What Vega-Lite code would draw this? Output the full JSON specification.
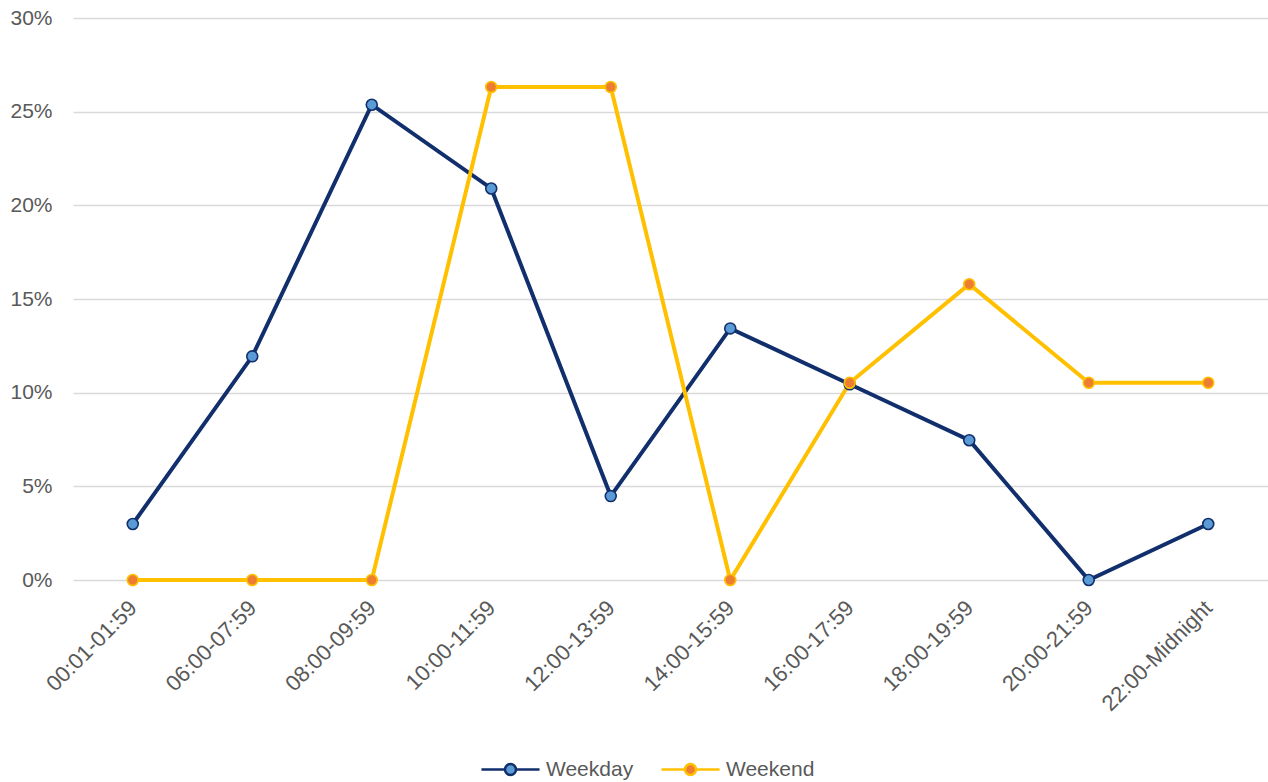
{
  "$schema": "https://vega.github.io/schema/vega-lite/v6.json",
  "width": 1195,
  "height": 562,
  "autosize": {"type": "none"},
  "padding": {"left": 73, "top": 18, "right": 0, "bottom": 202},
  "background": "white",
  "config": {
    "view": {"stroke": null},
    "font": "Liberation Sans",
    "axis": {"labelFont": "Liberation Sans", "labelFontSize": 21, "labelColor": "#595959", "domain": false, "ticks": false, "title": null}
  },
  "data": {
    "values": [
      {"slot": "00:01-01:59", "series": "Weekday", "share": 0.0299},
      {"slot": "06:00-07:59", "series": "Weekday", "share": 0.1194},
      {"slot": "08:00-09:59", "series": "Weekday", "share": 0.2537},
      {"slot": "10:00-11:59", "series": "Weekday", "share": 0.2090},
      {"slot": "12:00-13:59", "series": "Weekday", "share": 0.0448},
      {"slot": "14:00-15:59", "series": "Weekday", "share": 0.1343},
      {"slot": "16:00-17:59", "series": "Weekday", "share": 0.1045},
      {"slot": "18:00-19:59", "series": "Weekday", "share": 0.0746},
      {"slot": "20:00-21:59", "series": "Weekday", "share": 0.0},
      {"slot": "22:00-Midnight", "series": "Weekday", "share": 0.0299},
      {"slot": "00:01-01:59", "series": "Weekend", "share": 0.0},
      {"slot": "06:00-07:59", "series": "Weekend", "share": 0.0},
      {"slot": "08:00-09:59", "series": "Weekend", "share": 0.0},
      {"slot": "10:00-11:59", "series": "Weekend", "share": 0.2632},
      {"slot": "12:00-13:59", "series": "Weekend", "share": 0.2632},
      {"slot": "14:00-15:59", "series": "Weekend", "share": 0.0},
      {"slot": "16:00-17:59", "series": "Weekend", "share": 0.1053},
      {"slot": "18:00-19:59", "series": "Weekend", "share": 0.1579},
      {"slot": "20:00-21:59", "series": "Weekend", "share": 0.1053},
      {"slot": "22:00-Midnight", "series": "Weekend", "share": 0.1053}
    ]
  },
  "encoding": {
    "x": {
      "field": "slot", "type": "nominal", "sort": null,
      "axis": {"labelAngle": -45, "labelAlign": "right", "labelBaseline": "middle", "labelPadding": 24, "labelFontSize": 22, "grid": false}
    },
    "y": {
      "field": "share", "type": "quantitative",
      "scale": {"domain": [0, 0.3], "nice": false},
      "axis": {"format": ".0%", "values": [0, 0.05, 0.1, 0.15, 0.2, 0.25, 0.3], "grid": true, "gridColor": "#D9D9D9", "gridWidth": 1.5, "labelPadding": 21}
    },
    "stroke": {
      "field": "series", "type": "nominal",
      "scale": {"domain": ["Weekday", "Weekend"], "range": ["#112F6C", "#FFC000"]},
      "legend": {
        "title": null, "orient": "none", "direction": "horizontal", "legendX": 425, "legendY": 739,
        "symbolType": "M-2.64,0L-0.5,0M0.5,0L2.64,0M0.5,0A0.5,0.5,0,1,1,-0.5,0A0.5,0.5,0,1,1,0.5,0Z",
        "symbolSize": 484, "symbolStrokeWidth": 2.5, "labelOffset": 23, "columnPadding": 22,
        "labelFont": "Liberation Sans", "labelFontSize": 21, "labelColor": "#595959"
      }
    }
  },
  "layer": [
    {
      "mark": {"type": "line", "strokeWidth": 4}
    },
    {
      "mark": {"type": "point", "filled": true, "size": 120, "strokeWidth": 1.6, "opacity": 1},
      "encoding": {
        "fill": {
          "field": "series", "type": "nominal",
          "scale": {"domain": ["Weekday", "Weekend"], "range": ["#5B9BD5", "#ED7D31"]},
          "legend": {
            "title": null, "orient": "none", "direction": "horizontal", "legendX": 425, "legendY": 739,
            "symbolType": "M-2.64,0L-0.5,0M0.5,0L2.64,0M0.5,0A0.5,0.5,0,1,1,-0.5,0A0.5,0.5,0,1,1,0.5,0Z",
            "symbolSize": 484, "symbolStrokeWidth": 2.5, "labelOffset": 23, "columnPadding": 22,
            "labelFont": "Liberation Sans", "labelFontSize": 21, "labelColor": "#595959"
          }
        }
      }
    }
  ]
}
